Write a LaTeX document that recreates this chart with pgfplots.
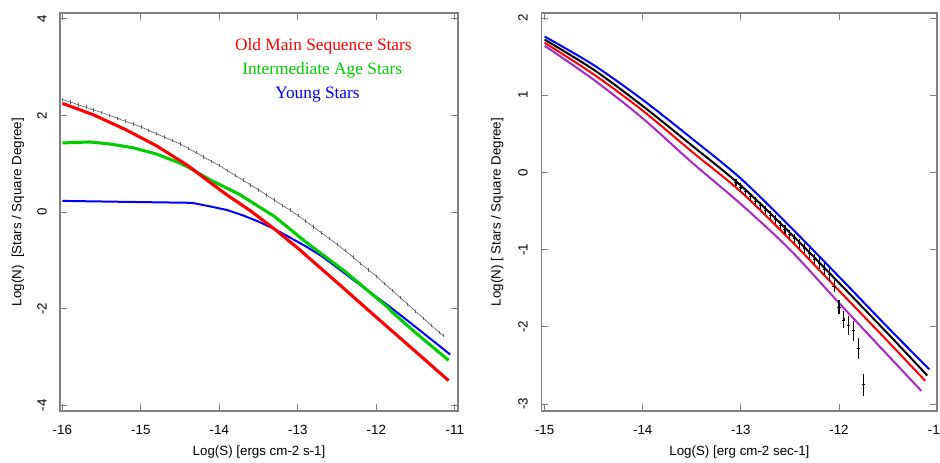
\documentclass[border=0pt]{standalone}
\usepackage{fontspec}
\setmainfont{Liberation Sans}
\newfontfamily\legfont{Liberation Serif}
\usepackage{pgfplots}
\pgfplotsset{compat=1.18}
\definecolor{rgreen}{RGB}{0,205,0}
\definecolor{rpurple}{RGB}{170,40,200}
\definecolor{framegray}{gray}{0.5}

\pgfplotsset{rpanel/.style={
  scale only axis, width=298.5pt, height=298.5pt, anchor=south west,
  axis line style={framegray, line width=0.9pt},
  tick align=inside, major tick length=5pt,
  tick style={framegray, line width=0.7pt},
  /pgf/number format/assume math mode=true,
  xticklabel style={anchor=center, yshift=-14.25pt},
  xlabel style={at={(axis description cs:0.5,-0.103)}, anchor=center},
}}

\begin{document}
\begin{tikzpicture}
% left panel
\begin{axis}[rpanel, at={(45pt,38.25pt)},
  xmin=-16.03, xmax=-10.96, ymin=-4.12, ymax=4.12,
  xtick={-16,-15,-14,-13,-12,-11}, ytick={-4,-2,0,2,4},
  yticklabel style={xshift=-13.5pt, rotate=90, anchor=center},
  xlabel={Log(S) [ergs cm-2 s-1]},
  ylabel={Log(N)\ \ [Stars / Square Degree]},
  ylabel style={at={(axis description cs:-0.1055,0.5)}, anchor=center},
]
\addplot[color=black!60, line width=0.5pt, mark=|, mark size=1.3pt, mark options={line width=0.4pt}] coordinates {
(-16.0,2.33)(-15.9,2.28)(-15.8,2.22)(-15.7,2.17)(-15.6,2.11)(-15.5,2.06)
(-15.4,2.00)(-15.3,1.94)(-15.2,1.88)(-15.1,1.82)(-15.0,1.76)(-14.9,1.69)
(-14.8,1.62)(-14.7,1.55)(-14.6,1.48)(-14.5,1.41)(-14.4,1.32)(-14.3,1.23)
(-14.2,1.14)(-14.1,1.05)(-14.0,0.96)(-13.9,0.86)(-13.8,0.76)(-13.7,0.66)
(-13.6,0.56)(-13.5,0.46)(-13.4,0.35)(-13.3,0.25)(-13.2,0.14)(-13.1,0.04)
(-13.0,-0.07)(-12.9,-0.19)(-12.8,-0.31)(-12.7,-0.43)(-12.6,-0.55)(-12.5,-0.67)
(-12.4,-0.80)(-12.3,-0.93)(-12.2,-1.07)(-12.1,-1.20)(-12.0,-1.33)(-11.9,-1.48)
(-11.8,-1.62)(-11.7,-1.77)(-11.6,-1.91)(-11.5,-2.06)(-11.4,-2.20)(-11.3,-2.35)
(-11.2,-2.49)(-11.15,-2.56)};
\addplot[color=blue, line width=1.5pt] coordinates {
(-16.0,0.23)(-15.2,0.21)(-14.35,0.19)(-14.1,0.11)(-13.9,0.04)(-13.7,-0.07)
(-13.5,-0.20)(-13.3,-0.35)(-13.1,-0.53)(-12.9,-0.71)(-12.7,-0.91)(-12.5,-1.15)
(-12.2,-1.52)(-11.83,-1.96)(-11.5,-2.38)(-11.06,-2.95)};
\addplot[color=rgreen, line width=2.3pt] coordinates {
(-16.0,1.43)(-15.65,1.45)(-15.4,1.41)(-15.1,1.33)(-14.8,1.20)(-14.5,1.01)
(-14.4,0.93)(-14.1,0.65)(-13.75,0.37)(-13.3,-0.09)(-12.9,-0.62)(-12.4,-1.23)
(-11.85,-1.98)(-11.8,-2.07)(-11.5,-2.50)(-11.08,-3.07)};
\addplot[color=red, line width=2.3pt] coordinates {
(-16.0,2.25)(-15.6,2.01)(-15.2,1.71)(-14.8,1.37)(-14.4,0.96)(-14.1,0.59)
(-13.9,0.35)(-13.6,0.02)(-13.3,-0.35)(-13.0,-0.75)(-12.5,-1.46)(-12.0,-2.18)
(-11.5,-2.89)(-11.08,-3.49)};
\node[font=\legfont\fontsize{13}{15}\selectfont, text=red] at (axis cs:-12.675,3.43) {Old Main Sequence Stars};
\node[font=\legfont\fontsize{13}{15}\selectfont, text=rgreen] at (axis cs:-12.69,2.93) {Intermediate Age Stars};
\node[font=\legfont\fontsize{13}{15}\selectfont, text=blue] at (axis cs:-12.75,2.44) {Young Stars};
\end{axis}
% right panel
\begin{axis}[rpanel, at={(406.3pt,38.25pt)}, width=296.5pt,
  xmin=-15.03, xmax=-11.0, ymin=-3.09, ymax=2.065,
  xtick={-15,-14,-13,-12,-11}, ytick={-3,-2,-1,0,1,2},
  yticklabel style={xshift=-14pt, rotate=90, anchor=center},
  xlabel={Log(S) [erg cm-2 sec-1]},
  ylabel={Log(N) [ Stars / Square Degree]},
  ylabel style={at={(axis description cs:-0.113,0.5)}, anchor=center},
]
\addplot[color=rpurple, line width=1.5pt, smooth] coordinates {
(-15.0,1.64)(-14.5,1.20)(-14.0,0.70)(-13.5,0.13)(-13.0,-0.41)(-12.5,-1.00)
(-12.0,-1.69)(-11.5,-2.37)(-11.16,-2.83)};
\addplot[color=red, line width=1.5pt, smooth] coordinates {
(-15.0,1.68)(-14.5,1.27)(-14.0,0.80)(-13.5,0.27)(-13.0,-0.25)(-12.5,-0.87)
(-12.0,-1.53)(-11.5,-2.19)(-11.12,-2.70)};
\addplot[color=blue, line width=1.5pt, smooth] coordinates {
(-15.0,1.76)(-14.5,1.39)(-14.0,0.94)(-13.5,0.44)(-13.0,-0.08)(-12.5,-0.70)
(-12.0,-1.35)(-11.5,-2.01)(-11.08,-2.55)};
\addplot[color=black, line width=1.5pt, smooth] coordinates {
(-15.0,1.72)(-14.5,1.33)(-14.0,0.86)(-13.5,0.35)(-13.0,-0.17)(-12.5,-0.78)
(-12.0,-1.43)(-11.5,-2.09)(-11.1,-2.63)};
\addplot[black, only marks, mark=+, mark size=1.2pt, mark options={line width=0.5pt},
  error bars/.cd, y dir=both, y explicit, error mark=none,
  error bar style={line width=0.8pt, black}]
  table[x=x, y=y, y error=e] {
x y e
-13.05 -0.13 0.05
-13.00 -0.19 0.05
-12.95 -0.25 0.05
-12.90 -0.31 0.05
-12.85 -0.37 0.05
-12.80 -0.43 0.05
-12.75 -0.49 0.055
-12.70 -0.55 0.055
-12.65 -0.61 0.055
-12.60 -0.68 0.055
-12.55 -0.74 0.06
-12.50 -0.80 0.06
-12.45 -0.86 0.06
-12.40 -0.92 0.06
-12.35 -0.98 0.065
-12.30 -1.05 0.065
-12.25 -1.12 0.07
-12.20 -1.18 0.07
-12.15 -1.25 0.075
-12.10 -1.32 0.08
-12.05 -1.47 0.085
-12.00 -1.745 0.095
-11.95 -1.91 0.11
-11.90 -1.985 0.125
-11.85 -2.05 0.13
-11.80 -2.28 0.14
-11.75 -2.75 0.14
};
\end{axis}
\pgfresetboundingbox
\useasboundingbox (0,0) rectangle (705pt,346.5pt);
\end{tikzpicture}
\end{document}
